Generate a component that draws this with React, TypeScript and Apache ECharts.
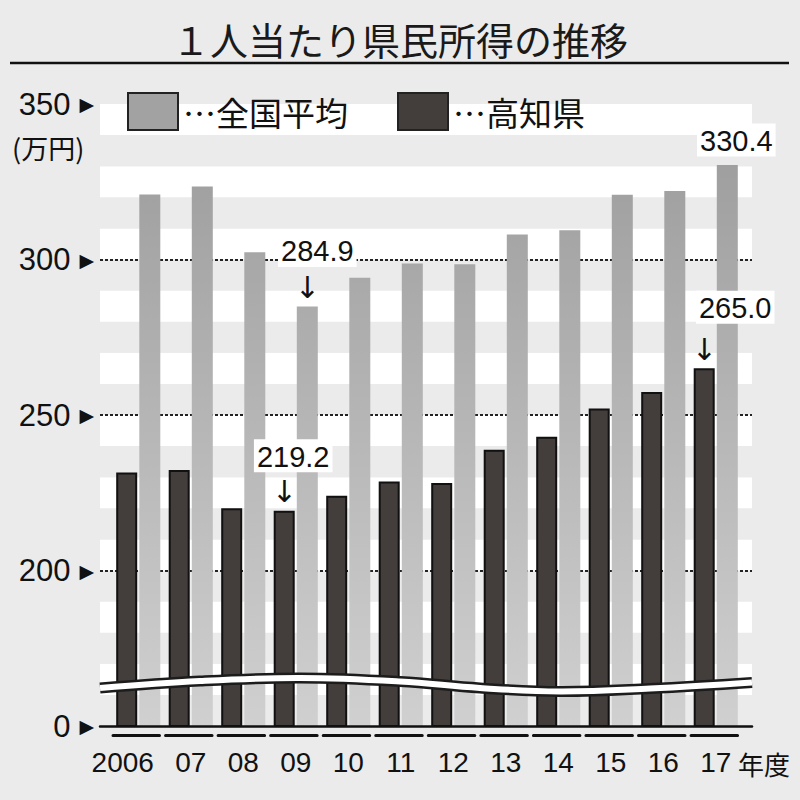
import { useEffect, useRef } from 'react'
import * as echarts from 'echarts'

// ── データ ─────────────────────────────
const YEARS = ['2006', '07', '08', '09', '10', '11', '12', '13', '14', '15', '16', '17']
const NATIONAL = [320.9, 323.5, 302.3, 284.9, 294.1, 298.7, 298.5, 308.0, 309.4, 320.8, 322.0, 330.4]
const KOCHI = [231.5, 232.3, 220.0, 219.2, 224.0, 228.6, 228.1, 238.8, 243.0, 252.1, 257.4, 265.0]

// 数値を表示する棒（index）と矢印付きの棒
const NATIONAL_NOTES = [3, 11]
const NATIONAL_ARROWS = [3]
const KOCHI_NOTES = [3, 11]
const KOCHI_ARROWS = [3, 11]

// 縦軸（150 から下は省略、その位置に「0」）
const AXIS_BASE = 150
const AXIS_TOP = 350
const LABEL_STEP = 50
const STRIPE_STEP = 10

const NUM_FONT = "'Liberation Sans', Arial, sans-serif"
const JP_FONT = "'Noto Sans CJK JP', sans-serif"

// 注記の横ずれ（px）と矢印行の高さ
const NOTE_SHIFT: Record<string, number> = { 'n3': 10, 'n11': 9, 'k3': 9, 'k11': 31 }
const ARROW_LINE: Record<string, number> = { 'n3': 42, 'k3': 40, 'k11': 52 }

function buildItems(values: number[], notes: number[], arrows: number[], key: string) {
  return values.map((v, i) => {
    if (!notes.includes(i)) return v
    const shift = NOTE_SHIFT[key + i] ?? 0
    const hasArrow = arrows.includes(i)
    const arrowLine = ARROW_LINE[key + i] ?? 40
    return {
      value: v,
      label: {
        show: true,
        position: 'top',
        distance: hasArrow ? (arrowLine - 30) / -2 + 4 : 9,
        formatter: `{s| }{v|${v.toFixed(1)}}` + (hasArrow ? '\n{a|↓}' : ''),
        rich: {
          s: { width: shift * 2, align: 'center' },
          v: {
            fontFamily: NUM_FONT, fontSize: 29, color: '#111', align: 'center',
            backgroundColor: '#fff', padding: [3, 3, 1, 3], lineHeight: 32,
          },
          a: { fontFamily: "'DejaVu Sans', sans-serif", fontSize: 30, lineHeight: arrowLine, color: '#111', align: 'center' },
        },
      },
    }
  })
}

export default function App() {
  const ref = useRef<HTMLDivElement>(null)

  useEffect(() => {
    document.body.style.margin = '0'
    if (!ref.current) return
    const chart = echarts.init(ref.current, null, { renderer: 'svg' })

    const grayFill = {
      type: 'linear', x: 0, y: 104, x2: 0, y2: 726, global: true,
      colorStops: [
        { offset: 0, color: '#9a9a9a' },
        { offset: 1, color: '#d0d0d0' },
      ],
    }
    const wave = [[100, 688], [200, 681], [300, 678], [400, 681.5], [480, 688], [560, 691.5], [650, 688.5], [752, 682.5]]

    chart.setOption({
      animation: false,
      backgroundColor: '#ebebeb',
      title: {
        text: '１人当たり県民所得の推移',
        left: 'center',
        top: 14,
        textStyle: { fontFamily: JP_FONT, fontSize: 38, fontWeight: 'normal', color: '#1a1a1a' },
      },
      legend: {
        left: 127,
        top: 92,
        padding: 0,
        itemWidth: 50,
        itemHeight: 37,
        itemGap: 49,
        icon: 'rect',
        formatter: (name: string) => '…' + name,
        textStyle: { fontFamily: JP_FONT, fontSize: 33, color: '#111' },
        data: [
          { name: '全国平均', itemStyle: { color: '#a2a2a2', borderColor: '#222', borderWidth: 2 } },
          { name: '高知県', itemStyle: { color: '#433d3b', borderColor: '#222', borderWidth: 2 } },
        ],
      },
      grid: [
        { left: 100, right: 48, top: 104, bottom: 74 },
        { left: 112, right: 58, top: 104, bottom: 74 },
      ],
      xAxis: [
        {
          gridIndex: 0, type: 'value', min: 0, max: 1, z: 5,
          axisLine: { show: true, lineStyle: { color: '#111', width: 2.5 } },
          axisTick: { show: false }, axisLabel: { show: false }, splitLine: { show: false },
        },
        {
          gridIndex: 1, type: 'category', data: YEARS, offset: 9,
          axisLine: { show: true, lineStyle: { color: '#111', width: 3, type: [46.5, 6.05], dashOffset: -1.5 } },
          axisTick: { show: false },
          axisLabel: {
            interval: 0,
            margin: 13,
            fontFamily: NUM_FONT, fontSize: 28, color: '#111',
            formatter: (v: string, i: number) => (i === 0 ? `{f|${v}}` : v),
            rich: { f: { fontFamily: NUM_FONT, fontSize: 28, color: '#111', padding: [0, 31, 0, 0] } },
          },
        },
      ],
      yAxis: [
        {
          gridIndex: 0, type: 'value', position: 'left', min: AXIS_BASE, max: AXIS_TOP, interval: STRIPE_STEP,
          axisLine: { show: false }, axisTick: { show: false }, axisLabel: { show: false },
          splitLine: { show: false },
          splitArea: { show: true, areaStyle: { color: ['#ebebeb', '#ffffff'] } },
        },
        {
          gridIndex: 0, type: 'value', position: 'left', min: AXIS_BASE, max: AXIS_TOP, interval: LABEL_STEP,
          axisLine: { show: false }, axisTick: { show: false },
          axisLabel: {
            margin: 6,
            formatter: (v: number) => `{n|${v === AXIS_BASE ? 0 : v}}{t|▶}`,
            rich: {
              n: { fontFamily: NUM_FONT, fontSize: 31, color: '#111' },
              t: { fontFamily: "'DejaVu Sans', sans-serif", fontSize: 19, color: '#111', padding: [0, 0, 0, 9] },
            },
          },
          splitLine: {
            show: true, showMinLine: false, showMaxLine: false,
            lineStyle: { color: '#222', width: 1.8, type: [3, 2] },
          },
        },
        { gridIndex: 1, type: 'value', min: AXIS_BASE, max: AXIS_TOP, show: false },
      ],
      series: [
        {
          name: '高知県', type: 'bar', xAxisIndex: 1, yAxisIndex: 2,
          barWidth: 21, barGap: '10%',
          itemStyle: { color: '#433d3b', borderColor: '#111', borderWidth: 2 },
          data: buildItems(KOCHI, KOCHI_NOTES, KOCHI_ARROWS, 'k'),
        },
        {
          name: '全国平均', type: 'bar', xAxisIndex: 1, yAxisIndex: 2,
          barWidth: 21, barGap: '10%',
          itemStyle: { color: grayFill },
          data: buildItems(NATIONAL, NATIONAL_NOTES, NATIONAL_ARROWS, 'n'),
        },
      ],
      graphic: [
        { type: 'line', z: 100, shape: { x1: 10, y1: 63, x2: 789, y2: 63 }, style: { stroke: '#111', lineWidth: 2.5 } },
        {
          type: 'text', z: 100, x: 12, y: 134,
          style: { text: '(万円)', font: `27px ${JP_FONT}`, fill: '#111' },
        },
        {
          type: 'text', z: 100, x: 738, y: 750,
          style: { text: '年度', font: `26px ${JP_FONT}`, fill: '#111' },
        },
        // 省略の波線
        {
          type: 'polyline', z: 100, shape: { points: wave, smooth: 0.4 },
          style: { stroke: '#1c1c1c', lineWidth: 11, fill: 'none' },
        },
        {
          type: 'polyline', z: 101, shape: { points: wave, smooth: 0.4 },
          style: { stroke: '#ffffff', lineWidth: 6, fill: 'none' },
        },
      ],
    })

    return () => chart.dispose()
  }, [])

  return <div ref={ref} style={{ width: 800, height: 800 }} />
}
